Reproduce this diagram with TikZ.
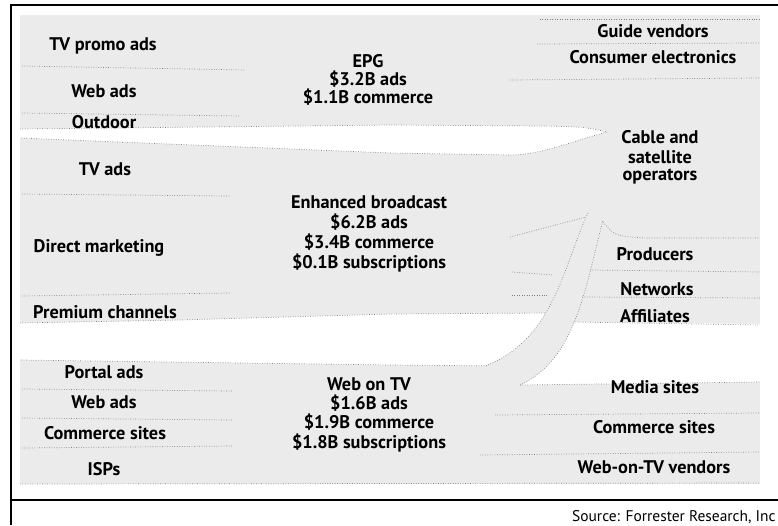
\documentclass[tikz,border=0pt]{standalone}
\usepackage{fontspec}
\setmainfont{PT Sans}
\usetikzlibrary{positioning}

\tikzset{
  band/.style={fill=black!8},
  gap/.style={fill=white, draw=black!50, densely dotted, line width=0.4pt},
  edge/.style={draw=black!50, densely dotted, line width=0.4pt},
  lbl/.style={font=\fontsize{10.4}{12}\selectfont\bfseries, inner sep=0pt, anchor=base},
  srclbl/.style={font=\fontsize{8.8}{10}\selectfont, inner sep=0pt, anchor=base east},
}

\begin{document}
\begin{tikzpicture}[x=0.02cm, y=-0.02cm]
	\useasboundingbox (0,0) rectangle (778,525);
	% flow bands
	\fill[band] (20,15) rectangle (760,484);
	% white gaps between the bands
	\draw[gap] (20,129) -- (390,125) -- (545,126) .. controls (585,127) .. (607,132) .. controls (570,142) and (540,155) .. (510,155) -- (390,153) -- (20,138);
	\draw[gap] (20,323) -- (180,320) -- (390,314) -- (552,313) -- (545,337) -- (505,366) -- (390,365) -- (20,360);
	\fill[white] (760,324) -- (570,322) -- (553,352) -- (522,385) -- (760,382) -- cycle;
	% web on TV to cable operators
	\fill[band] (588,213) .. controls (565,260) and (555,340) .. (485,366) -- (520,385) .. controls (575,360) and (585,290) .. (603,220) -- cycle;
	\draw[edge] (588,213) .. controls (565,260) and (555,340) .. (485,366);
	\draw[edge] (520,385) .. controls (575,360) and (585,290) .. (603,220);
	% splits on the left
	\draw[edge] (22,66) -- (245,70);
	\draw[edge] (22,113) -- (240,116);
	\draw[edge] (22,194) -- (230,196);
	\draw[edge] (22,296) -- (230,293);
	\draw[edge] (22,389) -- (232,391);
	\draw[edge] (22,418) -- (232,420);
	\draw[edge] (22,448) -- (232,446);
	\draw[edge] (20,484) -- (760,483);
	% splits in the middle
	\draw[edge] (512,272) -- (553,275);
	\draw[edge] (512,295) -- (547,295);
	\draw[edge] (510,237) -- (586,217);
	% splits on the right
	\draw[edge] (540,19) -- (760,19);
	\draw[edge] (537,44) -- (760,43);
	\draw[edge] (510,80) -- (760,78);
	\draw[edge] (603,222) .. controls (615,236) .. (645,238) -- (760,238);
	\draw[edge] (590,270) -- (760,272);
	\draw[edge] (582,297) -- (760,298);
	\draw[edge] (573,322) -- (760,325);
	\draw[edge] (520,385) -- (760,382);
	\draw[edge] (495,415) -- (760,413);
	\draw[edge] (480,455) -- (760,452);
	% frame
	\draw[line width=1.3pt] (778,5) -- (11,5) -- (11,525);
	\draw[line width=1pt] (11,500) -- (778,500);
	% sources
	\node[lbl] (tvpromo) at (103,50) {TV promo ads};
	\node[lbl] (webads) at (104,97) {Web ads};
	\node[lbl] (outdoor) at (104,128) {Outdoor};
	\node[lbl] (tvads) at (105,175) {TV ads};
	\node[lbl] (direct) at (99,252) {Direct marketing};
	\node[lbl] (premium) at (105,318) {Premium channels};
	\node[lbl] (portal) at (104,378) {Portal ads};
	\node[lbl] (webadsb) at (104,408) {Web ads};
	\node[lbl] (commsrc) at (105,439) {Commerce sites};
	\node[lbl] (isps) at (104,475) {ISPs};
	% services
	\node[lbl] (epg) at (368,67) {EPG};
	\node[lbl] (epgads) at (368,85) {\$3.2B ads};
	\node[lbl] (epgcom) at (368,103) {\$1.1B commerce};
	\node[lbl] (eb) at (369,208) {Enhanced broadcast};
	\node[lbl] (ebads) at (369,228) {\$6.2B ads};
	\node[lbl] (ebcom) at (369,248) {\$3.4B commerce};
	\node[lbl] (ebsub) at (369,268) {\$0.1B subscriptions};
	\node[lbl] (wotv) at (369,390) {Web on TV};
	\node[lbl] (wotvads) at (369,409) {\$1.6B ads};
	\node[lbl] (wotvcom) at (369,428) {\$1.9B commerce};
	\node[lbl] (wotvsub) at (369,448) {\$1.8B subscriptions};
	% receivers
	\node[lbl] (guide) at (653,37) {Guide vendors};
	\node[lbl] (consumer) at (653,63) {Consumer electronics};
	\node[lbl] (cable) at (660,143) {Cable and};
	\node[lbl] (satellite) at (660,163) {satellite};
	\node[lbl] (operators) at (660,180) {operators};
	\node[lbl] (producers) at (655,260) {Producers};
	\node[lbl] (networks) at (657,295) {Networks};
	\node[lbl] (affiliates) at (655,322) {Affiliates};
	\node[lbl] (media) at (655,393) {Media sites};
	\node[lbl] (commdst) at (654,433) {Commerce sites};
	\node[lbl] (vendors) at (654,473) {Web-on-TV vendors};
	\node[srclbl] (source) at (776,521) {Source: Forrester Research, Inc};
\end{tikzpicture}
\end{document}
